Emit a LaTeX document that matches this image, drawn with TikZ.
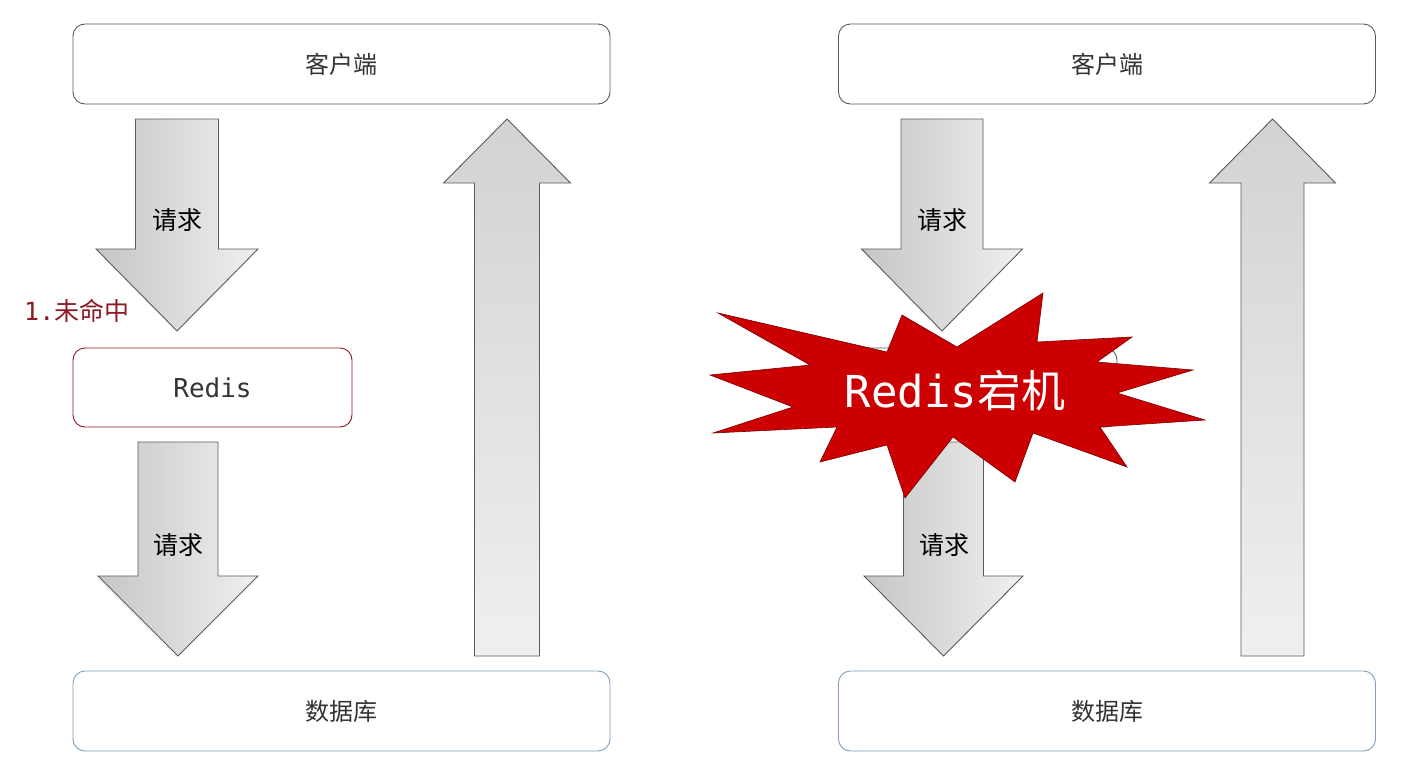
\documentclass[tikz,border=0pt]{standalone}
\usepackage{fontspec}
\setmainfont{Noto Sans CJK SC}
\newfontfamily\monofont{DejaVu Sans Mono}

\definecolor{boxgray}{HTML}{5A5A5A}
\definecolor{textgray}{HTML}{333333}
\definecolor{missred}{HTML}{8B1A24}
\definecolor{dbblue}{HTML}{7F9DB9}
\definecolor{crashred}{HTML}{CC0000}

% big block arrow: centre x, base y, head y, tip y, half shaft, half head
\newcommand{\bigarrow}[7][blockarrow]{%
  \shadedraw[#1] (#2-#6,#3) -- (#2+#6,#3) -- (#2+#6,#4) -- (#2+#7,#4)
    -- (#2,#5) -- (#2-#7,#4) -- (#2-#6,#4) -- cycle;}

\begin{document}
\begin{tikzpicture}[x=1pt, y=-1pt, every node/.style={inner sep=0pt}]
  \tikzstyle{box} = [draw=boxgray, line width=0.9pt, rounded corners=12pt,
    minimum width=537pt, minimum height=80pt, text=textgray,
    font=\fontsize{24}{28}\selectfont]
  \tikzstyle{blockarrow} = [draw=boxgray, line width=0.9pt,
    left color=gray!45, right color=gray!12]
  \tikzstyle{backarrow} = [draw=boxgray, line width=0.9pt,
    top color=gray!35, bottom color=gray!12]
  \tikzstyle{req} = [font=\fontsize{25}{29}\selectfont, text=black]
  \useasboundingbox (0,0) rectangle (1414,774);

  % left: cache miss
  \node (client) [box] at (341.5,64) {客户端};
  \node (redis) [box, draw=missred, minimum width=279pt, minimum height=79pt,
    font=\monofont\fontsize{26}{30}\selectfont] at (212.5,387.5) {Redis};
  \node (db) [box, draw=dbblue] at (341.5,711) {数据库};
  \bigarrow{177}{119}{249}{331}{41.5}{81}
  \bigarrow{178}{442}{576}{656}{40}{80}
  \bigarrow[backarrow]{507}{656}{183}{119}{32.5}{63.5}
  \node (req1) [req] at (177,220) {请求};
  \node (req2) [req] at (178,545) {请求};
  \node (miss) [text=missred, font=\fontsize{25}{29}\selectfont, anchor=west]
    at (24,311) {{\monofont 1.}未命中};

  % right: redis down
  \node (client2) [box] at (1107,64) {客户端};
  \node (redis2) [box, minimum width=279pt, minimum height=79pt] at (977.5,387.5) {};
  \node (db2) [box, draw=dbblue] at (1107,711) {数据库};
  \bigarrow{942}{119}{249}{331}{41}{80.5}
  \bigarrow{943.5}{442}{576}{656}{40}{79.5}
  \bigarrow[backarrow]{1272.5}{656}{183}{119}{31.5}{63}
  \node (req3) [req] at (942,220) {请求};
  \node (req4) [req] at (944,545) {请求};

  \filldraw[fill=crashred, draw=crashred!60!black, line width=0.6pt]
    (718,313) -- (887,352) -- (902,315) -- (957,347) -- (1043,293) -- (1037,342)
    -- (1132,337) -- (1097,362) -- (1193,370) -- (1117,393) -- (1205,420)
    -- (1100,427) -- (1127,467) -- (1033,433) -- (1015,482) -- (953,437)
    -- (905,498) -- (887,445) -- (820,462) -- (837,427) -- (713,433)
    -- (793,407) -- (710,375) -- (810,365) -- cycle;
  \node (crash) [text=white, font=\fontsize{44}{50}\selectfont] at (955,391)
    {{\monofont Redis}宕机};
\end{tikzpicture}
\end{document}
